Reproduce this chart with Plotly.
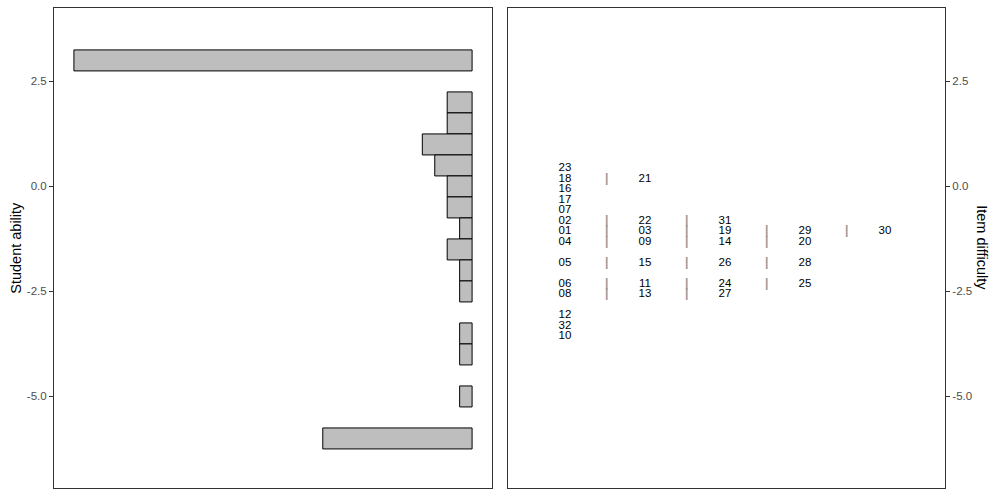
import plotly.graph_objects as go

# ---- data ----
ability_bins = [3.0, 2.0, 1.5, 1.0, 0.5, 0.0, -0.5, -1.0, -1.5, -2.0, -2.5, -3.5, -4.0, -5.0, -6.0]
ability_counts = [32, 2, 2, 4, 3, 2, 2, 1, 2, 1, 1, 1, 1, 1, 12]

item_rows_y = [0.43, 0.18, -0.07, -0.32, -0.57, -0.82, -1.07, -1.32, -1.82, -2.32, -2.57, -3.07, -3.32, -3.57]
item_rows = [
    ["23"],
    ["18", "21"],
    ["16"],
    ["17"],
    ["07"],
    ["02", "22", "31"],
    ["01", "03", "19", "29", "30"],
    ["04", "09", "14", "20"],
    ["05", "15", "26", "28"],
    ["06", "11", "24", "25"],
    ["08", "13", "27"],
    ["12"],
    ["32"],
    ["10"],
]

tick_vals = [-5.0, -2.5, 0.0, 2.5]
tick_text = ["-5.0", "-2.5", "0.0", "2.5"]

FONT = "Arial, Liberation Sans, sans-serif"
YRANGE = [-7.18, 4.26]

fig = go.Figure()

fig.add_trace(go.Bar(
    y=ability_bins, x=ability_counts, orientation="h", width=0.5,
    marker=dict(color="#BEBEBE", line=dict(color="black", width=1)),
    xaxis="x", yaxis="y", showlegend=False, hoverinfo="skip"))

lab_x, lab_y, lab_t = [], [], []
sep_x, sep_y = [], []
for yv, items in zip(item_rows_y, item_rows):
    for i, it in enumerate(items):
        lab_x.append(i + 1)
        lab_y.append(yv)
        lab_t.append(it)
        if i > 0:
            sep_x.append(i + 0.52)
            sep_y.append(yv)

fig.add_trace(go.Scatter(
    x=sep_x, y=sep_y, mode="text", text=["<b>|</b>"] * len(sep_x),
    textfont=dict(family=FONT, size=12, color="#999999"),
    xaxis="x2", yaxis="y2", showlegend=False, hoverinfo="skip"))
fig.add_trace(go.Scatter(
    x=lab_x, y=lab_y, mode="text", text=lab_t,
    textfont=dict(family=FONT, size=11.5, color="black"),
    xaxis="x2", yaxis="y2", showlegend=False, hoverinfo="skip"))

axis_common = dict(showgrid=False, zeroline=False, showline=True, mirror=True,
                   linecolor="#333333", linewidth=1)
yax_common = dict(axis_common, range=YRANGE, tickmode="array", tickvals=tick_vals,
                  ticktext=tick_text, ticks="outside", ticklen=4, tickcolor="#333333",
                  tickfont=dict(family=FONT, size=11.5, color="#4D4D4D"))

fig.update_layout(
    width=1000, height=500,
    margin=dict(l=0, r=0, t=0, b=0),
    paper_bgcolor="white", plot_bgcolor="white",
    xaxis=dict(axis_common, domain=[0.054, 0.492], range=[33.6, -1.6],
               showticklabels=False, ticks="", anchor="y"),
    yaxis=dict(yax_common, domain=[0.024, 0.985], anchor="x", side="left"),
    xaxis2=dict(axis_common, domain=[0.5075, 0.945], range=[0.281, 5.75],
                showticklabels=False, ticks="", anchor="y2"),
    yaxis2=dict(yax_common, domain=[0.024, 0.985], anchor="x2", side="right"),
    annotations=[
        dict(text="Student ability", x=16 / 1000, y=0.5045, xref="paper", yref="paper",
             textangle=-90, showarrow=False, xanchor="center", yanchor="middle",
             font=dict(family=FONT, size=14.5, color="black")),
        dict(text="Item difficulty", x=982.5 / 1000, y=0.5045, xref="paper", yref="paper",
             textangle=90, showarrow=False, xanchor="center", yanchor="middle",
             font=dict(family=FONT, size=14.5, color="black")),
    ],
)

fig.write_html("out.html")
